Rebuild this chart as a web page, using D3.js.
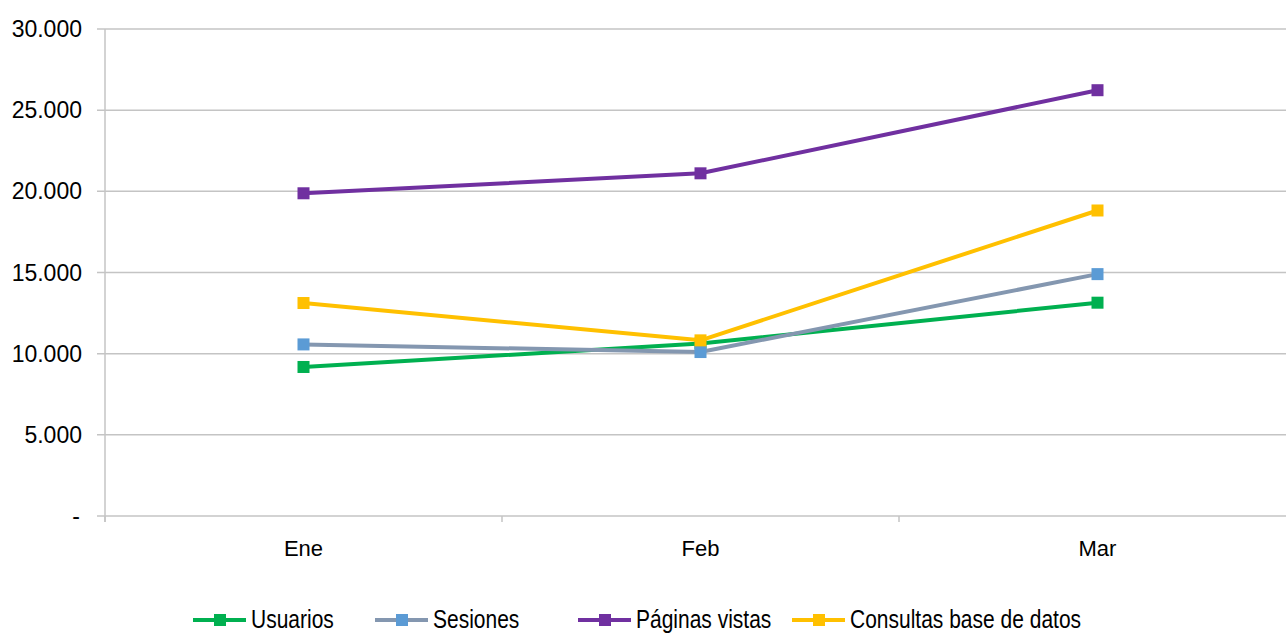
<!DOCTYPE html>
<html>
  <head>
  <meta charset="utf-8">
  <title>Visitas</title>
  <style>
    body, html {
      margin: 0;
      padding: 0;
      background: #fff;
    }
    svg text {
      font-family: "Liberation Sans", Arial, sans-serif;
      fill: #000;
    }
  </style>
  </head>
  <body>

  <svg id="svg" width="1286" height="633"></svg>
  <script src="https://d3js.org/d3.v7.min.js"></script>
  <script>
      const months = ['Ene', 'Feb', 'Mar']
      const usuarios = [9180, 10620, 13140]
      const sesiones = [10570, 10100, 14900]
      const paginas = [19880, 21110, 26230]
      const consultas = [13120, 10820, 18820]
      const yTicks = [0, 5000, 10000, 15000, 20000, 25000, 30000]

      const series = [
        { name: 'Usuarios', values: usuarios, line: '#00b050', marker: '#00b050' },
        { name: 'Sesiones', values: sesiones, line: '#8497b0', marker: '#5b9bd5' },
        { name: 'Páginas vistas', values: paginas, line: '#7030a0', marker: '#7030a0' },
        { name: 'Consultas base de datos', values: consultas, line: '#ffc000', marker: '#ffc000' }
      ]

      const plotLeft = 105, plotRight = 1296, plotTop = 29, plotBottom = 516
      const svg = d3.select('#svg')

      const x = d3.scaleBand().domain(months).range([plotLeft, plotRight])
      const y = d3.scaleLinear().domain([0, 30000]).range([plotBottom, plotTop])
      const fmt = d => d === 0 ? '-' : d3.format(',')(d).replace(/,/g, '.')

      // gridlines
      svg.append('g')
        .selectAll('line')
        .data(yTicks)
        .join('line')
        .attr('x1', plotLeft - 8)
        .attr('x2', 1286)
        .attr('y1', d => y(d))
        .attr('y2', d => y(d))
        .attr('stroke', '#c4c4c4')
        .attr('stroke-width', 1.5)

      // y labels
      svg.append('g')
        .selectAll('text')
        .data(yTicks)
        .join('text')
        .attr('x', d => d === 0 ? 80 : 82)
        .attr('y', d => y(d) + 8)
        .attr('text-anchor', 'end')
        .style('font-size', '23px')
        .text(fmt)

      // y axis line
      svg.append('line')
        .attr('x1', plotLeft).attr('x2', plotLeft)
        .attr('y1', plotTop).attr('y2', plotBottom + 6)
        .attr('stroke', '#c4c4c4')
        .attr('stroke-width', 1.5)

      // x ticks
      svg.append('g')
        .selectAll('line')
        .data(months)
        .join('line')
        .attr('x1', d => x(d)).attr('x2', d => x(d))
        .attr('y1', plotBottom).attr('y2', plotBottom + 6)
        .attr('stroke', '#c4c4c4')
        .attr('stroke-width', 1.5)

      // x labels
      svg.append('g')
        .selectAll('text')
        .data(months)
        .join('text')
        .attr('x', d => x(d) + x.bandwidth() / 2)
        .attr('y', 556)
        .attr('text-anchor', 'middle')
        .style('font-size', '22px')
        .text(d => d)

      const cx = (d, i) => x(months[i]) + x.bandwidth() / 2
      const line = d3.line().x(cx).y(d => y(d))

      series.forEach(s => {
        svg.append('path')
          .datum(s.values)
          .attr('d', line)
          .attr('fill', 'none')
          .attr('stroke', s.line)
          .attr('stroke-width', 4)
          .attr('stroke-linejoin', 'round')
        svg.append('g')
          .selectAll('rect')
          .data(s.values)
          .join('rect')
          .attr('x', (d, i) => cx(d, i) - 6)
          .attr('y', d => y(d) - 6)
          .attr('width', 12)
          .attr('height', 12)
          .attr('fill', s.marker)
      })

      // legend (condensed lettering, as in the original)
      const legendX = [193, 375, 578, 792]
      const legend = svg.append('g')
        .selectAll('g')
        .data(series)
        .join('g')
        .attr('transform', (d, i) => `translate(${legendX[i]}, 620)`)
      legend.append('line')
        .attr('x1', 0).attr('x2', 53)
        .attr('stroke', d => d.line)
        .attr('stroke-width', 4)
      legend.append('rect')
        .attr('x', 21).attr('y', -6)
        .attr('width', 12).attr('height', 12)
        .attr('fill', d => d.marker)
      legend.append('text')
        .attr('transform', 'translate(58, 8) scale(0.84, 1)')
        .style('font-size', '25px')
        .text(d => d.name)
  </script>
</body>
</html>
